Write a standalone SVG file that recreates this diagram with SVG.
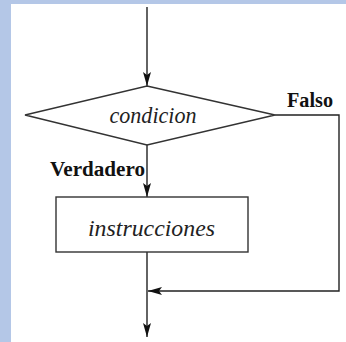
<svg xmlns="http://www.w3.org/2000/svg" width="346" height="342" viewBox="0 0 346 342">
<style>
.ln{fill:none;stroke:#222;stroke-width:1.4}
.sh{fill:#fff;stroke:#333;stroke-width:1.4}
.it{font-family:"Liberation Serif","Times New Roman",serif;font-style:italic;font-size:24px;fill:#222}
.bd{font-family:"Liberation Serif","Times New Roman",serif;font-weight:bold;font-size:20px;fill:#111}
</style>
<defs>
<marker id="ah" markerWidth="14" markerHeight="8" refX="14" refY="4" orient="auto" markerUnits="userSpaceOnUse">
<path d="M0,0 L14,4 L0,8 L3,4 Z" fill="#111"/>
</marker>
</defs>
<rect x="0" y="0" width="346" height="342" fill="#b4c7e7"/>
<rect x="11" y="4" width="335" height="338" fill="#fff"/>
<g id="connectors">
<line class="ln" x1="147" y1="7" x2="147" y2="86" marker-end="url(#ah)"/>
<line class="ln" x1="147" y1="145" x2="147" y2="197" marker-end="url(#ah)"/>
<line class="ln" x1="147" y1="252" x2="147" y2="337" marker-end="url(#ah)"/>
<polyline class="ln" points="275,115 339,115 339,291 148,291" marker-end="url(#ah)"/>
<text class="bd" x="287" y="107" textLength="46" lengthAdjust="spacingAndGlyphs">Falso</text>
<text class="bd" x="50" y="176" textLength="95" lengthAdjust="spacingAndGlyphs">Verdadero</text>
</g>
<g id="condicion">
<polygon class="sh" points="147,86 275,115 147,145 25,115"/>
<text class="it" x="153" y="123" text-anchor="middle" textLength="87" lengthAdjust="spacingAndGlyphs">condicion</text>
</g>
<g id="instrucciones">
<rect class="sh" x="56" y="197" width="192" height="55"/>
<text class="it" x="151.5" y="236" text-anchor="middle" textLength="127" lengthAdjust="spacingAndGlyphs">instrucciones</text>
</g>
</svg>
